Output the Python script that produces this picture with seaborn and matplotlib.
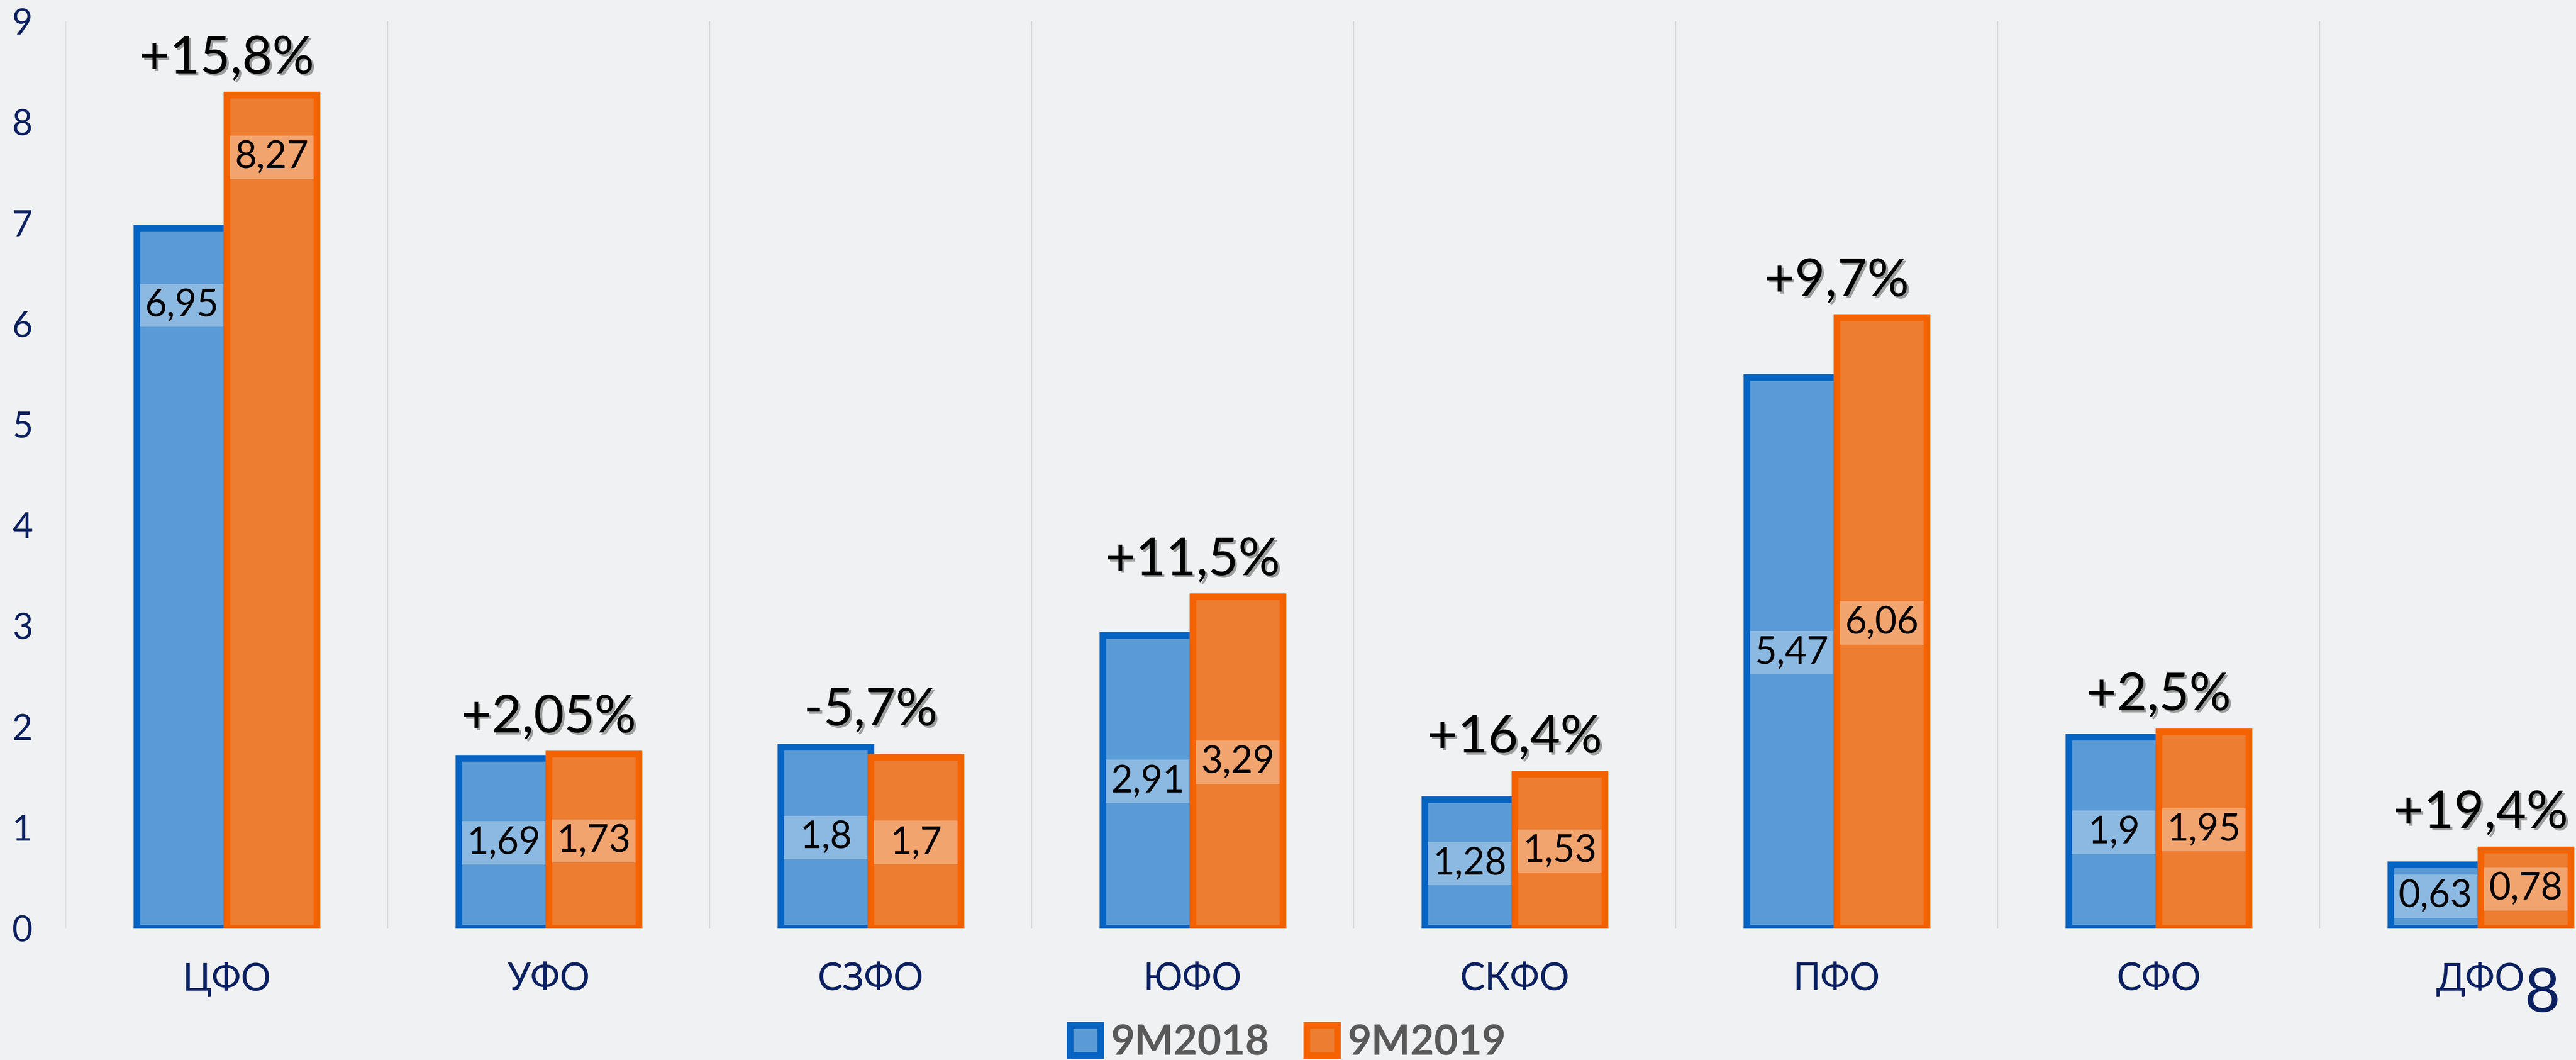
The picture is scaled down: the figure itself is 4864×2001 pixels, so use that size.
import matplotlib
matplotlib.use('Agg')
import matplotlib.pyplot as plt
import matplotlib.patheffects as pe
from matplotlib.patches import Patch, Rectangle
import seaborn as sns
import pandas as pd

# Data
regions = ['ЦФО', 'УФО', 'СЗФО', 'ЮФО',
           'СКФО', 'ПФО', 'СФО', 'ДФО']
v2018 = [6.95, 1.69, 1.8, 2.91, 1.28, 5.47, 1.9, 0.63]
v2019 = [8.27, 1.73, 1.7, 3.29, 1.53, 6.06, 1.95, 0.78]
growth = ['+15,8%', '+2,05%', '-5,7%', '+11,5%',
          '+16,4%', '+9,7%', '+2,5%', '+19,4%']
series = ['9M2018', '9M2019']
y_ticks = list(range(0, 10))

# label heights moved by hand in the original (ЦФО only)
label_override = {0: (6.18, 7.65)}

df = pd.DataFrame({
    'region': regions * 2,
    'value': v2018 + v2019,
    'period': [series[0]] * len(regions) + [series[1]] * len(regions),
})

fills = ['#5b9bd5', '#ed7d31']
edges = ['#0563c1', '#f56200']
navy = '#0a2060'
bg = '#f0f1f2'

sns.set_style('white')
plt.rcParams['font.family'] = ['Lato', 'DejaVu Sans']

fig = plt.figure(figsize=(48.64, 20.01), dpi=100, facecolor=bg)
ax = fig.add_axes([124 / 4864, 249 / 2001,
                   8 * 608 / 4864, 9 * 190.2 / 2001])
ax.set_facecolor('none')

sns.barplot(data=df, x='region', y='value', hue='period',
            palette=fills, width=0.56, saturation=1,
            legend=False, ax=ax, zorder=3)

lw_pt = 9
lw_data = lw_pt * 100 / 72 / 608
for i, cont in enumerate(ax.containers):
    for bar in cont:
        bar.set_edgecolor(edges[i])
        bar.set_linewidth(lw_pt)
        bar.set_zorder(3 + i)

# value labels with translucent box
for i, cont in enumerate(ax.containers):
    for j, bar in enumerate(cont):
        h = bar.get_height()
        y = label_override[j][i] if j in label_override else h / 2
        x0 = bar.get_x() + lw_data / 2
        w = bar.get_width() - lw_data
        ax.add_patch(Rectangle((x0, y - 0.215), w, 0.43,
                               facecolor='white', alpha=0.3,
                               edgecolor='none', zorder=6))
        ax.text(bar.get_x() + bar.get_width() / 2, y,
                f'{h:g}'.replace('.', ','), ha='center', va='center',
                fontsize=51, color='black', zorder=7)

# growth labels
shadow = [pe.SimplePatchShadow(offset=(3, -3), alpha=0.35), pe.Normal()]
for j, g in enumerate(growth):
    top = max(v2018[j], v2019[j])
    ax.text(j, top + 0.36, g, ha='center', va='center',
            fontsize=71, color='black', zorder=8, path_effects=shadow)

ax.set_xlim(-0.5, 7.5)
ax.set_ylim(0, 9)
ax.set_yticks(y_ticks)
ax.set_xticks([k - 0.5 for k in range(len(regions) + 1)], minor=True)
ax.grid(False)
ax.grid(True, which='minor', axis='x', color='#d9d9d9', lw=1.5, zorder=0)
for s in ax.spines.values():
    s.set_visible(False)
ax.tick_params(axis='y', length=0, pad=45, labelsize=48, labelcolor=navy)
ax.tick_params(axis='x', which='both', length=0, pad=46,
               labelsize=51, labelcolor=navy)
ax.set_xlabel('')
ax.set_ylabel('')

handles = [Patch(facecolor=fills[k], edgecolor=edges[k], linewidth=lw_pt,
                 label=series[k]) for k in range(2)]
leg = fig.legend(handles=handles, loc='center', bbox_to_anchor=(0.5, 1 - 1969 / 2001),
                 ncol=2, frameon=False, handlelength=0.75, handleheight=0.75,
                 handletextpad=0.25, columnspacing=0.9,
                 prop={'size': 56, 'weight': 'bold'})
for t in leg.get_texts():
    t.set_color('#595959')

fig.text(4800 / 4864, 1 - 1877 / 2001, '8', ha='center', va='center',
         fontsize=84, color=navy)

fig.savefig('out.png', dpi=100, facecolor=bg)
